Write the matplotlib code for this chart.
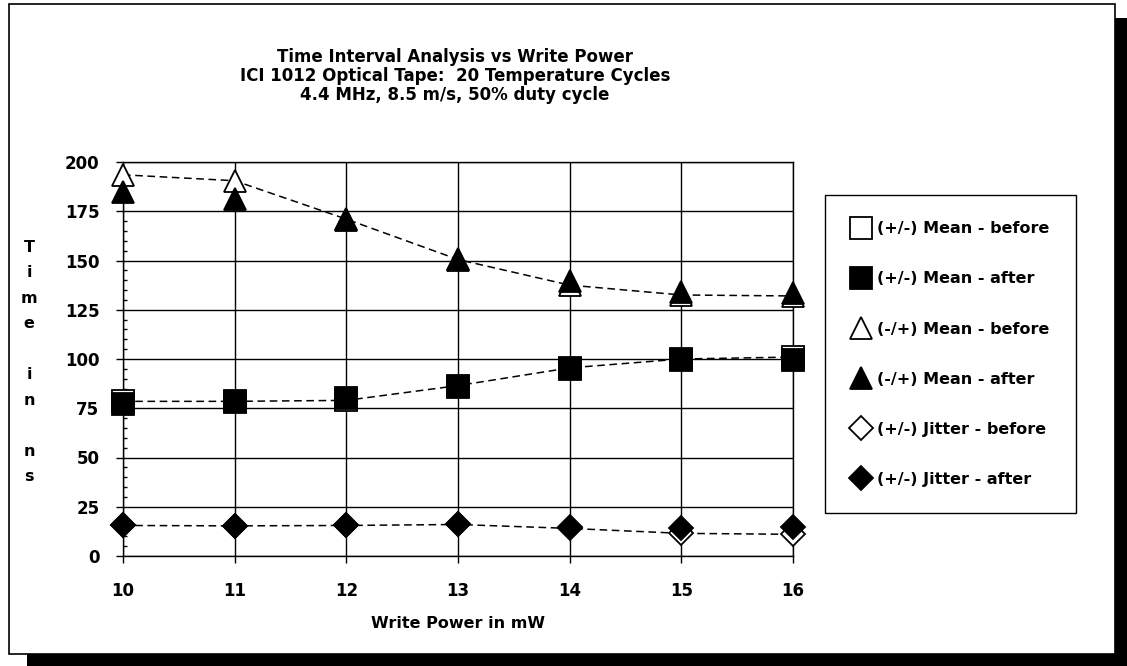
import matplotlib.pyplot as plt
from matplotlib.patches import Rectangle

plt.rcParams["font.family"] = ["DejaVu Sans"]

power = [10, 11, 12, 13, 14, 15, 16]
pm_mean_before = [78.5, 78.5, 79, 86.5, 95.5, 100, 101]
pm_mean_after = [77, 78, 80, 86, 95, 99.5, 99.5]
mp_mean_before = [193.5, 190.5, 171, 150.5, 137.5, 132.5, 132]
mp_mean_after = [185, 181, 170.5, 151, 139.5, 134, 133.5]
jitter_before = [15.5, 15.3, 15.5, 16.0, 14.0, 11.5, 11.0]
jitter_after = [15.5, 15.3, 15.8, 16.2, 14.5, 14.3, 14.5]

W, H = 1127, 666
fig = plt.figure(figsize=(W / 100, H / 100), dpi=100)
ax = fig.add_axes([123 / W, 110 / H, 670 / W, 394 / H])

dash = (0, (5, 3))
# dashed lines for the "before" series
for ys in (pm_mean_before, mp_mean_before, jitter_before):
    ax.plot(power, ys, color="black", lw=1.1, ls=dash, zorder=3)

series = [
    (pm_mean_before, "s", "white", 16, "(+/-) Mean - before"),
    (mp_mean_before, "^", "white", 16, "(-/+) Mean - before"),
    (jitter_before, "D", "white", 12, "(+/-) Jitter - before"),
    (pm_mean_after, "s", "black", 16, "(+/-) Mean - after"),
    (mp_mean_after, "^", "black", 16, "(-/+) Mean - after"),
    (jitter_after, "D", "black", 12, "(+/-) Jitter - after"),
]
handles = {}
for ys, m, fc, ms, lab in series:
    (h,) = ax.plot(power, ys, ls="none", marker=m, ms=ms, mfc=fc, mec="black",
                   mew=1.3, label=lab, zorder=4, clip_on=False)
    handles[lab] = h

ax.set_xlim(10, 16)
ax.set_ylim(0, 200)
ax.set_xticks(power)
ax.set_yticks(range(0, 201, 25))
ax.set_yticks(range(0, 201, 5), minor=True)
ax.grid(True, which="major", color="black", lw=1.0)
ax.set_axisbelow(True)
for s in ax.spines.values():
    s.set_linewidth(1.0)
ax.tick_params(axis="both", which="major", direction="out", length=5, width=1.0,
               labelsize=12)
ax.tick_params(axis="y", which="major", pad=12)
ax.tick_params(axis="x", which="major", pad=14)
ax.tick_params(axis="y", which="minor", direction="in", length=3, width=1.0)
for lbl in ax.get_xticklabels() + ax.get_yticklabels():
    lbl.set_fontweight("bold")

ax.set_xlabel("Write Power in mW", fontsize=11.5, fontweight="bold", labelpad=11)

fig.text(29 / W, 1 - 362 / H, "T\ni\nm\ne\n\ni\nn\n\nn\ns", ha="center", va="center",
         fontsize=11.5, fontweight="bold", linespacing=1.87)

fig.text(455 / W, 1 - 76 / H,
         "Time Interval Analysis vs Write Power\n"
         "ICI 1012 Optical Tape:  20 Temperature Cycles\n"
         "4.4 MHz, 8.5 m/s, 50% duty cycle",
         ha="center", va="center", fontsize=12, fontweight="bold", linespacing=1.1)

order = ["(+/-) Mean - before", "(+/-) Mean - after", "(-/+) Mean - before",
         "(-/+) Mean - after", "(+/-) Jitter - before", "(+/-) Jitter - after"]
leg = fig.legend([handles[k] for k in order], order, loc="upper left",
                 bbox_to_anchor=(825 / W, 1 - 195 / H), borderaxespad=0,
                 frameon=True, fancybox=False, edgecolor="black", framealpha=1,
                 prop={"weight": "bold", "size": 11.5}, labelspacing=2.2,
                 handlelength=1.2, handletextpad=0.4, borderpad=1.65, markerscale=1.0)
leg.get_frame().set_linewidth(1.0)

# chart frame with drop shadow
fig.add_artist(Rectangle((9 / W, 1 - 654 / H), (1115 - 9) / W, (654 - 4) / H,
                         transform=fig.transFigure, fill=False, ec="black", lw=1.2))
fig.add_artist(Rectangle((27 / W, 0), (W - 27) / W, 12 / H,
                         transform=fig.transFigure, color="black", lw=0))
fig.add_artist(Rectangle((1115 / W, 0), 12 / W, (H - 18) / H,
                         transform=fig.transFigure, color="black", lw=0))

fig.savefig("out.png", dpi=100)
